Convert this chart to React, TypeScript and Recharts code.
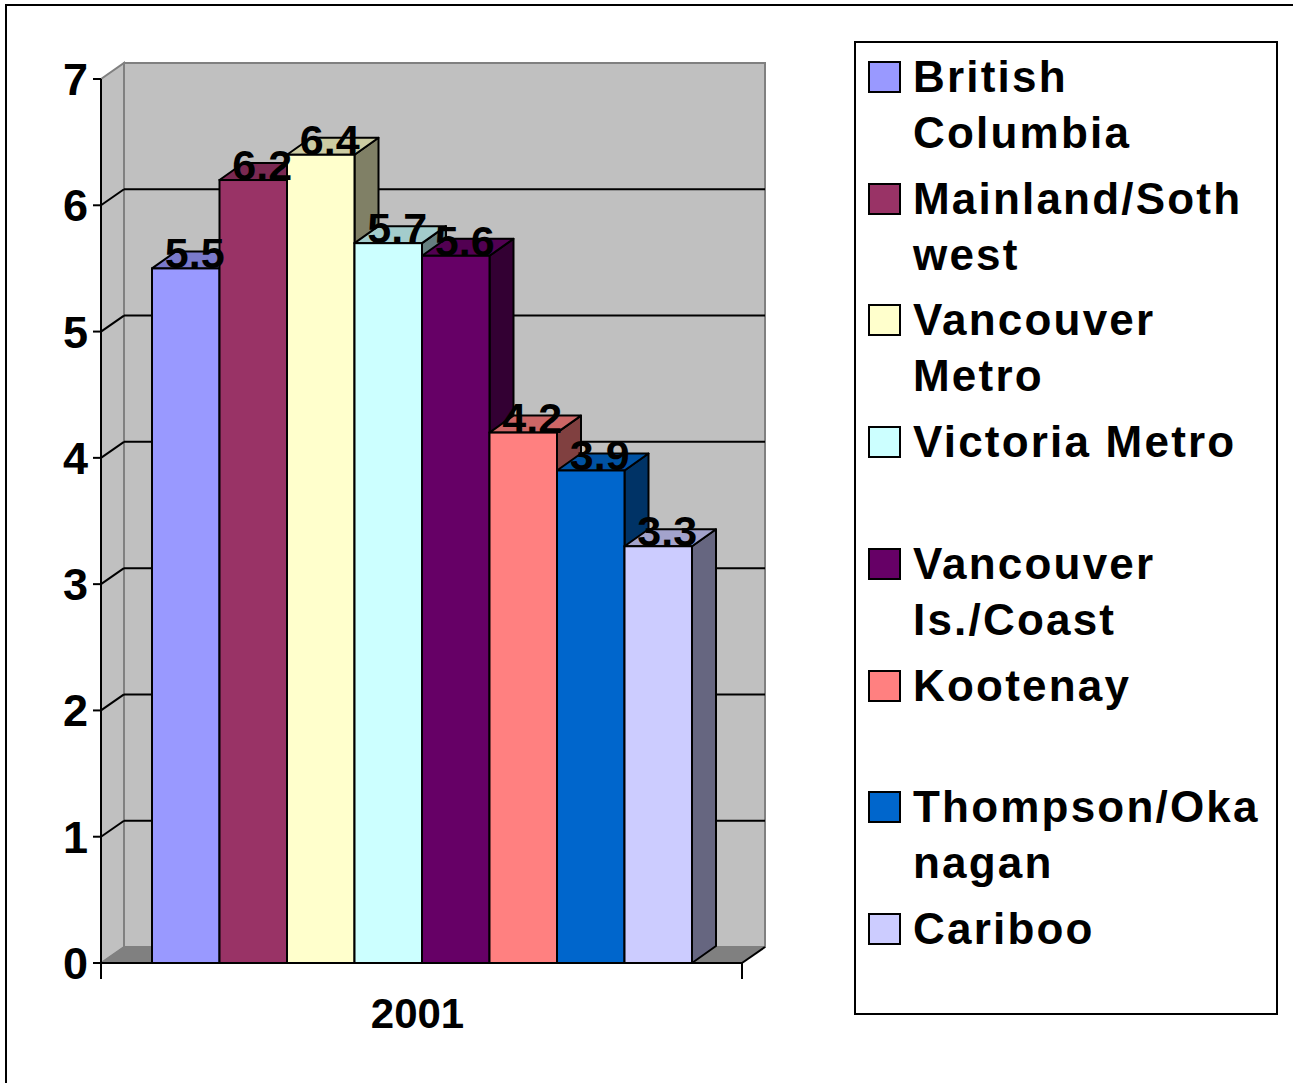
import React from 'react';
import { BarChart, Bar, XAxis, YAxis, CartesianGrid, LabelList } from 'recharts';

// ---------- data ----------
const categories = ['2001'];
const seriesNames = [
  'British Columbia',
  'Mainland/Sothwest',
  'Vancouver Metro',
  'Victoria Metro',
  'Vancouver Is./Coast',
  'Kootenay',
  'Thompson/Okanagan',
  'Cariboo',
];
const legendLines = [
  ['British', 'Columbia'],
  ['Mainland/Soth', 'west'],
  ['Vancouver', 'Metro'],
  ['Victoria Metro'],
  ['Vancouver', 'Is./Coast'],
  ['Kootenay'],
  ['Thompson/Oka', 'nagan'],
  ['Cariboo'],
];
const values2001 = [5.5, 6.2, 6.4, 5.7, 5.6, 4.2, 3.9, 3.3];
const yTicks = [0, 1, 2, 3, 4, 5, 6, 7];
const colors = ['#9999FF', '#993366', '#FFFFCC', '#CCFFFF', '#660066', '#FF8080', '#0066CC', '#CCCCFF'];

const data = categories.map((c) => {
  const row: any = { year: c };
  seriesNames.forEach((_, i) => {
    row['s' + i] = values2001[i];
  });
  return row;
});

// ---------- layout ----------
const W = 1293;
const H = 1083;
const PLOT_L = 101;
const PLOT_R = 742;
const PLOT_T = 79;
const PLOT_B = 963;
const YAXIS_W = 60;
const XAXIS_H = 60;
const WDX = 23; // wall depth
const WDY = -16;
const BDX = 24; // bar depth
const BDY = -17;
const FONT = '"Liberation Sans", Arial, Helvetica, sans-serif';

const shade = (hex: string, f: number) => {
  const n = parseInt(hex.slice(1), 16);
  const r = Math.round(((n >> 16) & 255) * f);
  const g = Math.round(((n >> 8) & 255) * f);
  const b = Math.round((n & 255) * f);
  return `rgb(${r},${g},${b})`;
};

const makeShape = (color: string) => (props: any) => {
  const { x, y, width, height } = props;
  if (width == null || height == null) return <g />;
  const r = x + width;
  const b = y + height;
  return (
    <g>
      <polygon
        points={`${r},${y} ${r + BDX},${y + BDY} ${r + BDX},${b + BDY} ${r},${b}`}
        fill={shade(color, 0.5)}
        stroke="#000"
        strokeWidth={2}
        strokeLinejoin="round"
      />
      <polygon
        points={`${x},${y} ${x + BDX},${y + BDY} ${r + BDX},${y + BDY} ${r},${y}`}
        fill={shade(color, 0.8)}
        stroke="#000"
        strokeWidth={2}
        strokeLinejoin="round"
      />
      <rect x={x} y={y} width={width} height={height} fill={color} stroke="#000" strokeWidth={2} />
    </g>
  );
};

const renderLabel = (props: any) => {
  const { x, y, width, value } = props;
  return (
    <text
      x={x + width / 2 + 9}
      y={y}
      textAnchor="middle"
      fontFamily={FONT}
      fontWeight={700}
      fontSize={43}
      fill="#000"
    >
      {value}
    </text>
  );
};

const renderGridLine = (props: any) => {
  const { x1, x2, y1, index } = props;
  const k = `grid-${index}`;
  if (Math.abs(y1 - PLOT_T) < 2 || Math.abs(y1 - PLOT_B) < 2) return <g key={k} />;
  return (
    <g key={k}>
      <line x1={x1} y1={y1} x2={x1 + WDX} y2={y1 + WDY} stroke="#000" strokeWidth={2} />
      <line x1={x1 + WDX} y1={y1 + WDY} x2={x2 + WDX} y2={y1 + WDY} stroke="#000" strokeWidth={2} />
    </g>
  );
};

const Background = () => (
  <svg width={W} height={H} style={{ position: 'absolute', left: 0, top: 0 }}>
    {/* back wall */}
    <rect
      x={PLOT_L + WDX}
      y={PLOT_T + WDY}
      width={PLOT_R - PLOT_L}
      height={PLOT_B - PLOT_T}
      fill="#C0C0C0"
      stroke="#808080"
      strokeWidth={2}
    />
    {/* side wall */}
    <polygon
      points={`${PLOT_L},${PLOT_T} ${PLOT_L + WDX},${PLOT_T + WDY} ${PLOT_L + WDX},${PLOT_B + WDY} ${PLOT_L},${PLOT_B}`}
      fill="#C0C0C0"
      stroke="#808080"
      strokeWidth={2}
    />
    {/* floor */}
    <polygon
      points={`${PLOT_L},${PLOT_B} ${PLOT_L + WDX},${PLOT_B + WDY} ${PLOT_R + WDX},${PLOT_B + WDY} ${PLOT_R},${PLOT_B}`}
      fill="#808080"
      stroke="#808080"
      strokeWidth={1}
    />
    <line x1={PLOT_R} y1={PLOT_B} x2={PLOT_R + WDX} y2={PLOT_B + WDY} stroke="#000" strokeWidth={2} />
    {/* category boundary ticks */}
    <line x1={PLOT_L} y1={PLOT_B} x2={PLOT_L} y2={PLOT_B + 16} stroke="#000" strokeWidth={2} />
    <line x1={PLOT_R} y1={PLOT_B} x2={PLOT_R} y2={PLOT_B + 16} stroke="#000" strokeWidth={2} />
  </svg>
);

const Legend3D = () => (
  <div
    style={{
      position: 'absolute',
      left: 854,
      top: 41,
      width: 424,
      height: 974,
      border: '2px solid #000',
      boxSizing: 'border-box',
      background: '#fff',
    }}
  >
    {legendLines.map((lines, i) => {
      const top = 6 + i * 121.7;
      return (
        <div key={seriesNames[i]} style={{ position: 'absolute', left: 0, top, width: 420 }}>
          <div
            style={{
              position: 'absolute',
              left: 12,
              top: 12,
              width: 33,
              height: 32,
              boxSizing: 'border-box',
              border: '2px solid #000',
              background: colors[i],
            }}
          />
          <div
            style={{
              position: 'absolute',
              left: 57,
              top: 0,
              fontFamily: FONT,
              fontWeight: 700,
              fontSize: 44,
              lineHeight: '56px',
              letterSpacing: 2.2,
              whiteSpace: 'nowrap',
              color: '#000',
            }}
          >
            {lines.map((l) => (
              <div key={l}>{l}</div>
            ))}
          </div>
        </div>
      );
    })}
  </div>
);

export default function App() {
  return (
    <div style={{ position: 'absolute', left: 0, top: 0, width: W, height: H, overflow: 'hidden', background: '#fff' }}>
      <div
        style={{
          position: 'absolute',
          left: 5,
          top: 4,
          width: W + 20,
          height: H + 20,
          border: '2px solid #000',
          boxSizing: 'border-box',
        }}
      />
      <Background />
      <div style={{ position: 'absolute', left: 0, top: 0 }}>
        <BarChart
          width={W}
          height={H}
          data={data}
          margin={{ top: PLOT_T, right: W - PLOT_R, bottom: H - PLOT_B - XAXIS_H, left: PLOT_L - YAXIS_W }}
          barSize={67.5}
          barGap={0}
        >
          <CartesianGrid vertical={false} horizontal={renderGridLine} fill="none" stroke="none" />
          <XAxis
            dataKey="year"
            height={XAXIS_H}
            axisLine={{ stroke: '#000', strokeWidth: 2 }}
            tickLine={false}
            tickSize={0}
            tickMargin={35}
            tick={{ fill: '#000', fontSize: 42, fontWeight: 700, fontFamily: FONT, dx: -4 }}
          />
          <YAxis
            width={YAXIS_W}
            domain={[0, 7]}
            ticks={yTicks}
            interval={0}
            axisLine={{ stroke: '#000', strokeWidth: 2 }}
            tickLine={{ stroke: '#000', strokeWidth: 2 }}
            tickSize={8}
            tickMargin={5}
            tick={{ fill: '#000', fontSize: 45, fontWeight: 700, fontFamily: FONT }}
          />
          {seriesNames.map((name, i) => (
            <Bar
              key={name}
              dataKey={'s' + i}
              name={name}
              fill={colors[i]}
              shape={makeShape(colors[i])}
              isAnimationActive={false}
            >
              <LabelList dataKey={'s' + i} content={renderLabel} />
            </Bar>
          ))}
        </BarChart>
      </div>
      <Legend3D />
    </div>
  );
}
